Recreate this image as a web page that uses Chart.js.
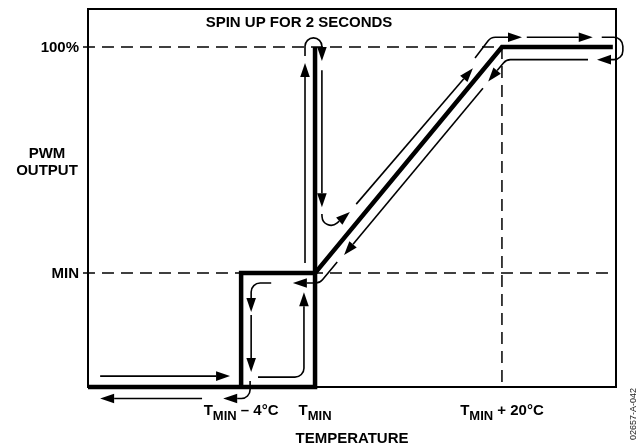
<!DOCTYPE html>
<html>
<head>
<meta charset="utf-8">
<script src="https://cdn.jsdelivr.net/npm/chart.js@4.4.1/dist/chart.umd.min.js"></script>
<style>
  html, body { margin: 0; padding: 0; background: #ffffff; }
  canvas { display: block; }
</style>
</head>
<body>
<canvas id="fanChart" width="644" height="447"></canvas>
<script>
// Temperature axis runs in arbitrary units across the plot; PWM output in % duty.
const tempTicks = [29, 43, 78.4];
const tempTickLabels = [
  ['T', 'MIN', ' \u2013 4\u00B0C'],
  ['T', 'MIN', ''],
  ['T', 'MIN', ' + 20\u00B0C']
];
const pwmTicks = [33.5, 100];
const pwmTickLabels = ['MIN', '100%'];

// Fan response: hysteresis loop below T_MIN, spin-up pulse, then the linear ramp.
const loopTemp = [0, 29, 29, 43, 43, 29];
const loopPwm  = [0, 0, 33.5, 33.5, 0, 0];
const spinTemp = [43, 43];
const spinPwm  = [33.5, 100];
const rampTemp = [43, 78.4, 99.4];
const rampPwm  = [33.5, 100, 100];

// Reference levels (dashed).
const fullTemp = [-0.95, 78.4];
const fullPwm  = [100, 100];
const minTemp  = [-0.95, 100];
const minPwm   = [33.5, 33.5];
const t20Temp  = [78.4, 78.4];
const t20Pwm   = [100, 0];

// Direction-of-travel arrows: [temp, pwm] vertices, the head sits on the last vertex.
const arrowPaths = [
  [[2.3, 3.2], [26.9, 3.2]],
  [[21.6, -3.4], [2.3, -3.4]],
  [[34.7, 30.6], [30.9, 30.6], [30.9, 22.1]],
  [[30.9, 21.2], [30.9, 4.4]],
  [[30.7, 1.8], [30.7, -3.4], [25.6, -3.4]],
  [[32.2, 2.9], [40.9, 2.9], [40.9, 27.9]],
  [[47.2, 36.8], [43.9, 30.6], [38.8, 30.6]],
  [[74.8, 87.9], [48.5, 38.8]],
  [[94.7, 96.3], [79.2, 96.3], [75.8, 89.9]],
  [[50.8, 53.8], [72.9, 93.8]],
  [[73.3, 96.8], [76.3, 102.9], [82.2, 102.9]],
  [[83.1, 102.9], [95.6, 102.9]],
  [[97.3, 102.9], [101.3, 102.9], [101.3, 96.3], [96.4, 96.3]],
  [[41.1, 97.4], [41.1, 102.7], [44.3, 102.7], [44.3, 95.9]],
  [[41.1, 36.5], [41.1, 95.3]],
  [[44.3, 93.2], [44.3, 52.9]],
  [[44.3, 50.9], [44.5, 44.7], [49.6, 51.5]]
];

const zip = (xs, ys) => xs.map((x, i) => ({ x: x, y: ys[i] }));

const FONT = '"Liberation Sans", Arial, Helvetica, sans-serif';
const INK = '#000000';

function guide(xs, ys) {
  return {
    data: zip(xs, ys), showLine: true, borderColor: INK, borderWidth: 1.5,
    borderDash: [12, 7], pointRadius: 0, clip: false, tension: 0
  };
}
function response(xs, ys) {
  return {
    data: zip(xs, ys), showLine: true, borderColor: INK, borderWidth: 4.5,
    pointRadius: 0, clip: false, tension: 0, borderJoinStyle: 'miter', borderCapStyle: 'butt'
  };
}

function drawArrow(ctx, pts) {
  const n = pts.length;
  const tip = pts[n - 1], prev = pts[n - 2];
  const ang = Math.atan2(tip[1] - prev[1], tip[0] - prev[0]);
  const L = 14, W = 4.8, R = 9;
  const bx = tip[0] - L * Math.cos(ang), by = tip[1] - L * Math.sin(ang);
  ctx.beginPath();
  ctx.moveTo(pts[0][0], pts[0][1]);
  for (let i = 1; i < n - 1; i++) {
    const a = pts[i - 1], b = pts[i], c = pts[i + 1];
    const l1 = Math.hypot(b[0] - a[0], b[1] - a[1]);
    const l2 = Math.hypot(c[0] - b[0], c[1] - b[1]);
    const r = Math.min(R, l1 / 2, l2 / 2);
    ctx.arcTo(b[0], b[1], c[0], c[1], r);
  }
  ctx.lineTo(bx, by);
  ctx.stroke();
  ctx.beginPath();
  ctx.moveTo(tip[0], tip[1]);
  ctx.lineTo(bx + W * Math.sin(ang), by - W * Math.cos(ang));
  ctx.lineTo(bx - W * Math.sin(ang), by + W * Math.cos(ang));
  ctx.closePath();
  ctx.fill();
}

const decorations = {
  id: 'decorations',
  beforeDatasetsDraw(chart) {
    const { ctx, chartArea: a } = chart;
    ctx.save();
    ctx.strokeStyle = INK;
    ctx.lineWidth = 2;
    ctx.strokeRect(a.left, a.top, a.right - a.left, a.bottom - a.top);
    ctx.restore();
  },
  afterDatasetsDraw(chart) {
    const { ctx } = chart;
    const xs = chart.scales.x, ys = chart.scales.y;
    ctx.save();
    ctx.strokeStyle = INK;
    ctx.fillStyle = INK;
    ctx.lineWidth = 1.6;
    ctx.lineJoin = 'round';
    ctx.lineCap = 'butt';
    arrowPaths.forEach(p => {
      drawArrow(ctx, p.map(v => [xs.getPixelForValue(v[0]), ys.getPixelForValue(v[1])]));
    });
    ctx.restore();
  },
  afterDraw(chart) {
    const { ctx, chartArea: a } = chart;
    const xs = chart.scales.x, ys = chart.scales.y;
    ctx.save();
    ctx.fillStyle = INK;

    // PWM tick labels
    ctx.font = 'bold 15px ' + FONT;
    ctx.textAlign = 'right';
    ctx.textBaseline = 'middle';
    pwmTicks.forEach((v, i) => ctx.fillText(pwmTickLabels[i], a.left - 9, ys.getPixelForValue(v) + 1));

    // PWM axis title
    ctx.textAlign = 'center';
    ctx.fillText('PWM', a.left - 41, a.top + 145);
    ctx.fillText('OUTPUT', a.left - 41, a.top + 162);

    // Temperature tick labels with subscripted MIN
    ctx.textBaseline = 'alphabetic';
    ctx.textAlign = 'left';
    const big = 'bold 15px ' + FONT, small = 'bold 13px ' + FONT;
    const base = a.bottom + 28;
    tempTicks.forEach((v, i) => {
      const [t, sub, rest] = tempTickLabels[i];
      ctx.font = big; const w1 = ctx.measureText(t).width;
      ctx.font = small; const w2 = ctx.measureText(sub).width;
      ctx.font = big; const w3 = ctx.measureText(rest).width;
      let x = xs.getPixelForValue(v) - (w1 + w2 + w3) / 2;
      ctx.font = big; ctx.fillText(t, x, base); x += w1;
      ctx.font = small; ctx.fillText(sub, x, base + 5); x += w2;
      ctx.font = big; ctx.fillText(rest, x, base);
    });

    // Temperature axis title
    ctx.textAlign = 'center';
    ctx.font = big;
    ctx.fillText('TEMPERATURE', (a.left + a.right) / 2, a.bottom + 56);

    // Spin-up note
    ctx.fillText('SPIN UP FOR 2 SECONDS', 299, a.top + 17.5);

    // Figure code
    ctx.save();
    ctx.translate(634, 414);
    ctx.rotate(-Math.PI / 2);
    ctx.font = '9px ' + FONT;
    ctx.fillStyle = '#222222';
    ctx.textBaseline = 'middle';
    ctx.fillText('02657-A-042', 0, 0);
    ctx.restore();

    ctx.restore();
  }
};

new Chart(document.getElementById('fanChart'), {
  type: 'scatter',
  data: {
    datasets: [
      guide(fullTemp, fullPwm),
      guide(minTemp, minPwm),
      guide(t20Temp, t20Pwm),
      response(loopTemp, loopPwm),
      response(spinTemp, spinPwm),
      response(rampTemp, rampPwm)
    ]
  },
  options: {
    responsive: false,
    animation: false,
    devicePixelRatio: 1,
    layout: { padding: { left: 88, right: 28, top: 9, bottom: 60 } },
    plugins: { legend: { display: false }, tooltip: { enabled: false }, title: { display: false } },
    events: [],
    scales: {
      x: { type: 'linear', min: 0, max: 100, display: false },
      y: { type: 'linear', min: 0, max: 111.2, display: false }
    }
  },
  plugins: [decorations]
});
</script>
</body>
</html>
